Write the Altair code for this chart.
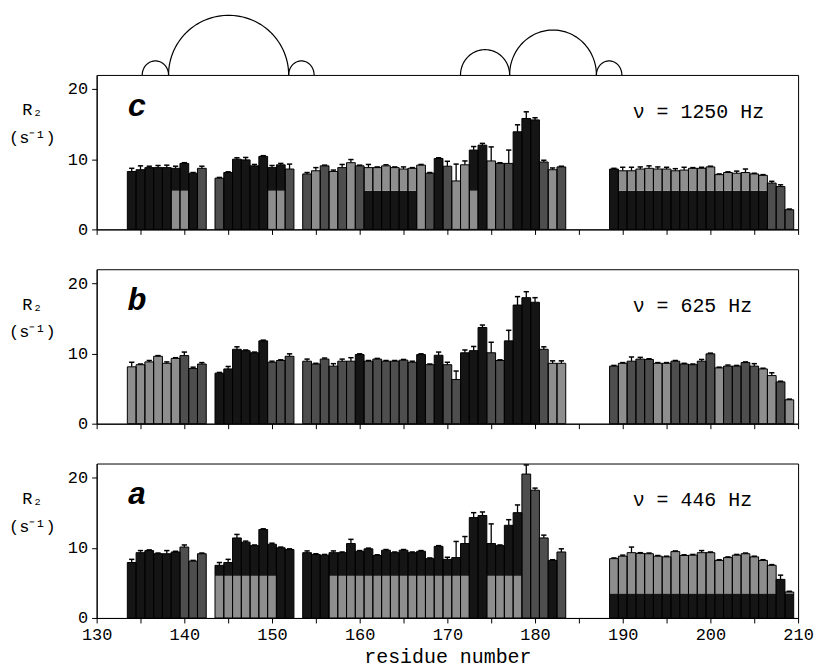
import altair as alt
import pandas as pd
import numpy as np

# ---------------- data ----------------
residues = (list(range(134, 143)) + list(range(144, 153))
            + list(range(154, 184)) + list(range(189, 210)))

panel_letters = ["c", "b", "a"]
freq_labels = ["ν = 1250 Hz", "ν = 625 Hz", "ν = 446 Hz"]

# panel c (1250 Hz)
r2_c = [8.25, 8.5, 8.8, 8.8, 8.8, 8.7, 9.4, 8.0, 8.7,
        7.3, 8.1, 10.0, 9.9, 9.05, 10.4, 8.8, 9.2, 8.6,
        7.9, 8.35, 9.05, 8.25, 8.8, 9.5, 9.05, 8.8, 8.8, 9.05,
        8.8, 8.6, 8.7, 9.15, 8.0, 10.1, 9.0, 6.9, 9.2, 11.3,
        12.0, 9.75, 9.4, 9.4, 13.9, 15.8, 15.6, 9.6, 8.5, 8.9,
        8.6, 8.35, 8.35, 8.6, 8.7, 8.6, 8.6, 8.35, 8.45, 8.7,
        8.7, 8.9, 7.8, 8.1, 8.0, 8.1, 7.9, 7.7, 6.6, 6.1, 2.8]
err_c = [0.45, 0.55, 0.2, 0.3, 0.35, 0.3, 0.1, 0.1, 0.3,
         0.1, 0.1, 0.2, 0.35, 0.2, 0.1, 0.3, 0.2, 0.7,
         0.2, 0.45, 0.1, 0.2, 0.45, 0.45, 0.1, 0.45, 0.1, 0.15,
         0.1, 0.3, 0.1, 0.1, 0.1, 0.1, 0.7, 2.4, 0.55, 0.5,
         0.25, 2.0, 0.1, 1.9, 1.0, 0.95, 0.3, 0.25, 0.25, 0.1,
         0.1, 0.5, 0.5, 0.3, 0.35, 0.3, 0.25, 0.3, 0.4, 0.1,
         0.15, 0.1, 0.1, 0.1, 0.3, 0.5, 0.1, 0.1, 0.25, 0.25, 0.1]
tone_c = ["k", "k", "k", "k", "k", "gk", "gk", "k", "d",
          "d", "k", "k", "k", "k", "k", "gk", "gk", "d",
          "d", "g", "d", "g", "d", "g", "d", "kg", "kg", "kg",
          "kg", "kg", "kg", "g", "d", "k", "d", "g", "g", "gk",
          "k", "g", "d", "d", "k", "k", "k", "d", "g", "d",
          "k", "kg", "kg", "kg", "kg", "kg", "kg", "kg", "kg", "kg",
          "kg", "kg", "kg", "kg", "kg", "kg", "kg", "kg", "d", "d", "d"]

# panel b (625 Hz)
r2_b = [8.1, 8.4, 8.8, 9.6, 8.6, 9.3, 9.7, 7.85, 8.5,
        7.2, 7.8, 10.6, 10.4, 10.1, 11.8, 8.75, 9.0, 9.6,
        8.9, 8.5, 9.2, 8.2, 8.9, 8.9, 9.85, 8.9, 9.2, 8.9,
        8.9, 9.05, 8.75, 9.85, 8.4, 9.75, 8.4, 6.3, 10.1, 10.4,
        13.7, 10.1, 9.0, 11.8, 16.9, 17.95, 17.3, 10.6, 8.6, 8.6,
        8.2, 8.6, 8.9, 9.2, 9.15, 8.6, 8.6, 8.9, 8.5, 8.4,
        8.9, 9.95, 7.95, 8.2, 8.2, 8.7, 8.2, 7.8, 6.85, 5.95, 3.4]
err_b = [0.65, 0.1, 0.2, 0.1, 0.2, 0.1, 0.5, 0.2, 0.2,
         0.1, 0.35, 0.35, 0.1, 0.1, 0.1, 0.15, 0.1, 0.35,
         0.3, 0.1, 0.15, 0.35, 0.3, 0.5, 0.1, 0.1, 0.1, 0.1,
         0.1, 0.1, 0.15, 0.1, 0.1, 0.45, 0.35, 1.2, 0.4, 0.6,
         0.35, 1.5, 0.1, 1.5, 1.2, 0.85, 0.65, 0.35, 0.35, 0.35,
         0.1, 0.1, 0.6, 0.25, 0.1, 0.1, 0.1, 0.1, 0.1, 0.1,
         0.25, 0.1, 0.1, 0.15, 0.1, 0.1, 0.35, 0.1, 0.4, 0.1, 0.1]
tone_b = ["g", "g", "g", "g", "g", "g", "d", "d", "d",
          "k", "k", "k", "k", "k", "k", "d", "d", "d",
          "d", "d", "d", "d", "d", "d", "k", "d", "d", "d",
          "d", "d", "d", "k", "d", "k", "d", "d", "k", "k",
          "k", "d", "d", "k", "k", "k", "k", "d", "g", "g",
          "d", "g", "d", "d", "d", "g", "g", "d", "d", "d",
          "d", "d", "g", "d", "d", "d", "d", "g", "g", "d", "g"]

# panel a (446 Hz)
r2_a = [7.9, 9.3, 9.6, 9.15, 9.15, 9.4, 10.1, 8.1, 9.15,
        7.5, 7.9, 11.4, 10.8, 10.3, 12.6, 10.5, 10.0, 9.75,
        9.3, 9.05, 8.95, 9.3, 9.3, 10.6, 9.5, 9.85, 8.9, 9.65,
        9.3, 9.65, 9.3, 9.5, 8.45, 10.2, 8.35, 8.6, 10.6, 14.3,
        14.6, 10.6, 10.3, 13.2, 15.0, 20.5, 18.2, 11.4, 8.2, 9.4,
        8.45, 8.8, 9.3, 9.2, 9.15, 8.8, 8.7, 9.45, 8.9, 8.95,
        9.3, 9.3, 8.2, 8.6, 8.95, 9.15, 8.7, 8.2, 7.5, 5.5, 3.7]
err_a = [0.45, 0.3, 0.1, 0.1, 0.45, 0.1, 0.3, 0.1, 0.1,
         0.4, 0.45, 0.5, 0.15, 0.1, 0.1, 0.15, 0.1, 0.1,
         0.25, 0.1, 0.1, 0.25, 0.1, 0.6, 0.1, 0.1, 0.1, 0.1,
         0.1, 0.1, 0.1, 0.1, 0.1, 0.1, 0.3, 2.3, 1.0, 0.7,
         0.5, 2.8, 0.1, 0.8, 1.1, 1.3, 0.3, 0.4, 0.1, 0.45,
         0.1, 0.15, 0.8, 0.1, 0.1, 0.1, 0.1, 0.1, 0.1, 0.1,
         0.3, 0.1, 0.1, 0.1, 0.1, 0.1, 0.1, 0.1, 0.1, 0.6, 0.1]
tone_a = ["k", "k", "k", "k", "k", "k", "d", "d", "d",
          "gk", "gk", "gk", "gk", "gk", "gk", "gk", "k", "k",
          "k", "k", "k", "gk", "gk", "gk", "gk", "gk", "gk", "gk",
          "gk", "gk", "gk", "gk", "gk", "gk", "gk", "gk", "gk", "k",
          "k", "gk", "gk", "gk", "gk", "d", "d", "d", "k", "d",
          "kg", "kg", "kg", "kg", "kg", "kg", "kg", "kg", "kg", "kg",
          "kg", "kg", "kg", "kg", "kg", "kg", "kg", "kg", "kg", "k", "kg"]

# level where a two-tone bar changes tone, per panel: (for "kg", for "gk")
tone_split = {"c": (5.5, 5.5), "b": (5.5, 5.5), "a": (3.5, 6.0)}

# arches drawn above the top panel (residue spans and heights above the frame)
arc_start = [135.2, 138.2, 151.9, 171.5, 177.1, 187.0]
arc_end = [138.2, 151.9, 154.8, 177.1, 187.0, 189.9]
arc_height = [2.0, 8.5, 2.0, 3.6, 6.4, 2.0]

x_ticks = list(range(130, 211, 5))
y_ticks = [0, 5, 10, 15, 20]

# ---------------- styling ----------------
FONT = "Liberation Mono"
W, H = 704, 155
Y_TOP = 22
tone_colors = {"k": "#151515", "d": "#4e4e4e", "g": "#8e8e8e"}

x_scale = alt.Scale(domain=[130, 210], nice=False, zero=False)
y_scale = alt.Scale(domain=[0, Y_TOP], nice=False, zero=False)


def segments(r2, tone, splits):
    rows = []
    for res, v, t in zip(residues, r2, tone):
        if t in ("k", "d", "g"):
            rows.append((res, 0.0, v, t))
        else:
            split = splits[0] if t == "kg" else splits[1]
            lo_t, hi_t = t[0], t[1]
            s = min(split, v)
            rows.append((res, 0.0, s, lo_t))
            if v > split:
                rows.append((res, split, v, hi_t))
    df = pd.DataFrame(rows, columns=["residue", "lo", "hi", "tone"])
    df["x0"] = df["residue"] - 0.5
    df["x1"] = df["residue"] + 0.5
    return df


def panel(idx, r2, err, tone, key, bottom=False):
    df = pd.DataFrame({"residue": residues, "r2": r2, "err": err})
    df["x0"] = df["residue"] - 0.5
    df["x1"] = df["residue"] + 0.5
    df["zero"] = 0.0
    df["top"] = df["r2"] + df["err"]
    df["cl"] = df["residue"] - 0.3
    df["cr"] = df["residue"] + 0.3
    seg = segments(r2, tone, tone_split[key])

    if bottom:
        xaxis = alt.Axis(values=x_ticks, title="residue number",
                         labelExpr="datum.value % 10 == 0 ? datum.label : ''",
                         labelFontSize=17, titleFontSize=20, titlePadding=4,
                         titleFontWeight="normal",
                         labelPadding=4, labelFlush=False)
    else:
        xaxis = alt.Axis(values=x_ticks, title="", labels=False)
    yaxis = alt.Axis(values=y_ticks, title=["R₂", "(s⁻¹)"],
                     labelExpr="datum.value % 10 == 0 ? datum.label : ''",
                     labelFontSize=17, labelPadding=4,
                     titleAngle=0, titleAlign="center", titleBaseline="top",
                     titleX=-65, titleY=27, titleFontSize=17,
                     titleLineHeight=28, titleFontWeight="normal")

    fills = alt.Chart(seg).mark_bar(strokeWidth=0).encode(
        x=alt.X("x0:Q", scale=x_scale, axis=xaxis),
        x2="x1:Q",
        y=alt.Y("lo:Q", scale=y_scale, axis=yaxis),
        y2="hi:Q",
        color=alt.Color("tone:N", legend=None,
                        scale=alt.Scale(domain=list(tone_colors),
                                        range=list(tone_colors.values()))),
    )
    outline = alt.Chart(df).mark_bar(fillOpacity=0, stroke="black",
                                     strokeWidth=1).encode(
        x=alt.X("x0:Q", scale=x_scale), x2="x1:Q",
        y=alt.Y("zero:Q", scale=y_scale), y2="r2:Q",
    )
    ebar = alt.Chart(df).mark_rule(color="black", strokeWidth=1.3).encode(
        x=alt.X("residue:Q", scale=x_scale),
        y=alt.Y("r2:Q", scale=y_scale), y2="top:Q",
    )
    cap = alt.Chart(df).mark_rule(color="black", strokeWidth=1.5).encode(
        x=alt.X("cl:Q", scale=x_scale), x2="cr:Q",
        y=alt.Y("top:Q", scale=y_scale),
    )
    letter = alt.Chart(pd.DataFrame({"t": [panel_letters[idx]]})).mark_text(
        font=FONT, fontSize=32, fontWeight="bold", fontStyle="italic",
        align="left", baseline="alphabetic", color="black"
    ).encode(text="t:N", x=alt.value(31), y=alt.value(41))
    freq = alt.Chart(pd.DataFrame({"t": [freq_labels[idx]]})).mark_text(
        font=FONT, fontSize=20, align="left", baseline="alphabetic",
        color="black"
    ).encode(text="t:N", x=alt.value(538), y=alt.value(43))

    layers = [fills, outline, ebar, cap, letter, freq]

    if key == "c":
        rows = []
        t = np.linspace(0, np.pi, 60)
        for i, (a0, a1, h) in enumerate(zip(arc_start, arc_end, arc_height)):
            cx, rx = (a0 + a1) / 2, (a1 - a0) / 2
            for j, tt in enumerate(t):
                rows.append((i, j, cx - rx * np.cos(tt), Y_TOP + h * np.sin(tt)))
        arcs = pd.DataFrame(rows, columns=["arc", "k", "ax", "ay"])
        arc_layer = alt.Chart(arcs).mark_line(color="black", strokeWidth=1.2,
                                              clip=False).encode(
            x=alt.X("ax:Q", scale=x_scale),
            y=alt.Y("ay:Q", scale=y_scale),
            detail="arc:N", order="k:Q",
        )
        layers.append(arc_layer)

    return alt.layer(*layers).properties(width=W, height=H)


pc = panel(0, r2_c, err_c, tone_c, "c")
pb = panel(1, r2_b, err_b, tone_b, "b")
pa = panel(2, r2_a, err_a, tone_a, "a", bottom=True)

chart = alt.vconcat(pc, pb, pa, spacing=30).properties(
    padding={"left": 8, "top": 11, "right": 8, "bottom": 2},
    background="white",
).configure_view(stroke="black", strokeWidth=1).configure_axis(
    grid=False, domainColor="black", tickColor="black", tickSize=5,
    labelColor="black", titleColor="black", labelFont=FONT, titleFont=FONT,
    domainWidth=1, tickWidth=1
)

chart.save("out.html", embed_options={"renderer": "svg", "actions": False})
